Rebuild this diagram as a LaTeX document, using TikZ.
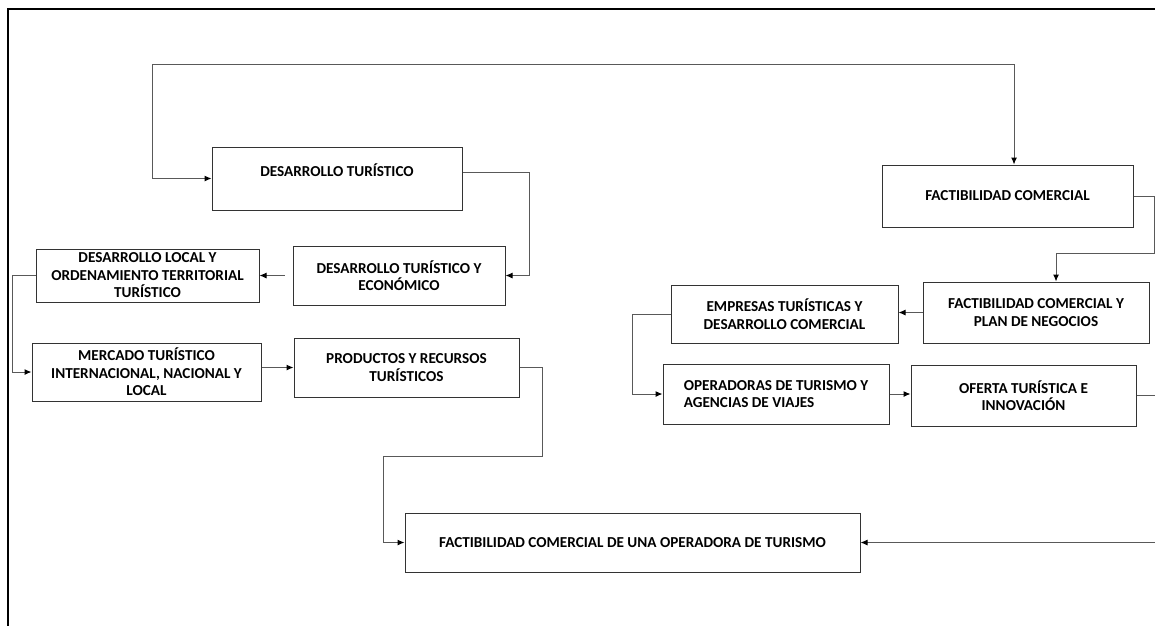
\documentclass[tikz,border=0pt]{standalone}
\usepackage{fontspec}
\setmainfont{Carlito}
\usetikzlibrary{arrows.meta}

\tikzset{
  caja/.style={draw=black!80, line width=1pt, align=center, inner sep=1pt,
    font=\bfseries\fontsize{15.2}{17.5}\selectfont},
  punta/.tip={Latex[length=7pt,width=6pt,color=black]},
  conector/.style={draw=black!65, line width=1pt, -punta},
  marco/.style={draw=black, line width=2pt},
}

\begin{document}
\begin{tikzpicture}[x=1pt, y=-1pt]
    \useasboundingbox (0,0) rectangle (1155,625);
    \clip (0,0) rectangle (1155,625);
    % page frame (left and top edge)
    \draw[marco] (8,640) -- (8,9) -- (1170,9);

    % left branch
    \node[caja, minimum width=250pt, minimum height=63pt] (dt) at (337,178.5) {DESARROLLO TURÍSTICO\\ \phantom{X}};
    \node[caja, minimum width=212pt, minimum height=59pt] (dte) at (399,275.5) {DESARROLLO TURÍSTICO Y\\ECONÓMICO};
    \node[caja, minimum width=223pt, minimum height=53pt] (dlo) at (147.5,275.5) {DESARROLLO LOCAL Y\\ORDENAMIENTO TERRITORIAL\\TURÍSTICO};
    \node[caja, minimum width=229pt, minimum height=58pt] (mti) at (146.5,372) {MERCADO TURÍSTICO\\INTERNACIONAL, NACIONAL Y\\LOCAL};
    \node[caja, minimum width=225pt, minimum height=59pt] (prt) at (406.5,367.5) {PRODUCTOS Y RECURSOS\\TURÍSTICOS};

    % right branch
    \node[caja, minimum width=251pt, minimum height=62pt] (fc) at (1007.5,196) {FACTIBILIDAD COMERCIAL};
    \node[caja, minimum width=226pt, minimum height=61pt] (fpn) at (1036,312.5) {FACTIBILIDAD COMERCIAL Y\\PLAN DE NEGOCIOS};
    \node[caja, minimum width=227pt, minimum height=58pt] (etd) at (784.5,314) {EMPRESAS TURÍSTICAS Y\\DESARROLLO COMERCIAL};
    \node[caja, minimum width=226pt, minimum height=60pt, align=left] (oav) at (776,394) {OPERADORAS DE TURISMO Y\\ AGENCIAS DE VIAJES};
    \node[caja, minimum width=225pt, minimum height=61pt] (oti) at (1023.5,395.5) {OFERTA TURÍSTICA E\\INNOVACIÓN};

    % result
    \node[caja, minimum width=455pt, minimum height=59pt] (fco) at (632.5,542.5) {FACTIBILIDAD COMERCIAL DE UNA OPERADORA DE TURISMO};

    % connectors
    \draw[conector, punta-punta] (dt.west) -| (152,64) -| ([xshift=6.5pt]fc.north);
    \draw[conector] ([yshift=6.5pt]dt.east) -- ++(67,0) |- (dte.east);
    \draw[conector, shorten <=8pt] (dte.west) -- (dlo.east);
    \draw[conector] (dlo.west) -- ++(-23,0) |- (mti.west);
    \draw[conector] (mti.east |- prt.west) -- (prt.west);
    \draw[conector] (prt.east) -| (542,456) -| (383,542.5) -- (fco.west);

    \coordinate (fpnin) at ([xshift=20pt]fpn.north);
    \draw[conector] (fc.east) -- ++(21,0) -- ++(0,57) -| (fpnin);
    \draw[conector] (fpn.west) -- (fpn.west -| etd.east);
    \draw[conector] (etd.west) -- ++(-38,0) |- (oav.west);
    \draw[conector] (oav.east) -- (oav.east -| oti.west);
    \draw[conector] (oti.east) -- ++(23,0) |- (fco.east);
\end{tikzpicture}
\end{document}
